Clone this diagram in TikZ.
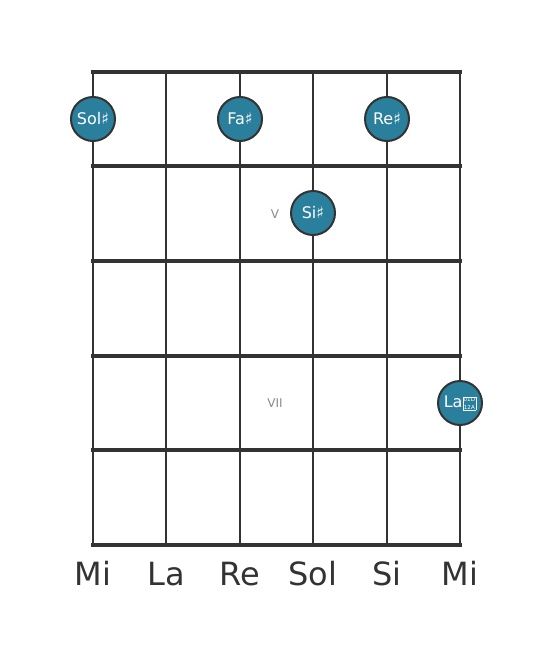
\documentclass[tikz,border=0pt]{standalone}
\usepackage{fontspec}
\setmainfont{DejaVu Sans}
\usepackage{xcolor}
\usetikzlibrary{positioning}
\definecolor{gridgray}{HTML}{333333}
\definecolor{dotblue}{HTML}{2A7F9C}
\definecolor{fretnum}{HTML}{8A8A8A}
\newcommand{\tofubox}{\raisebox{-1.5pt}{\setlength\fboxsep{0.5pt}\setlength\fboxrule{0.6pt}\fbox{\fontsize{5.6}{5.4}\selectfont\shortstack{01D\\12A}}}}
\tikzset{
  stringline/.style={gridgray,line width=2.6pt},
  fretline/.style={gridgray,line width=4.6pt},
  notedot/.style={circle,draw=gridgray,line width=2pt,fill=dotblue,minimum size=44pt,inner sep=0pt,text=white,font=\fontsize{16}{16}\selectfont},
  fretlabel/.style={text=fretnum,font=\fontsize{12}{12}\selectfont},
  stringname/.style={text=gridgray,font=\fontsize{32}{32}\selectfont,anchor=base}
}
\begin{document}
\begin{tikzpicture}[x=1pt,y=-1pt]
  \useasboundingbox (0,0) rectangle (553,656);
  % strings
  \foreach \x/\n in {93/1,166/2,240/3,313/4,387/5,460/6}{
    \coordinate (s\n top) at (\x,72);
    \coordinate (s\n bot) at (\x,545);
    \draw[stringline] (s\n top) -- (s\n bot);
  }
  % frets
  \foreach \y/\n in {72/0,166/1,261/2,356/3,450/4,545/5}{
    \coordinate (f\n l) at (93,\y);
    \coordinate (f\n r) at (460,\y);
    \draw[fretline,line cap=rect] (f\n l) -- (f\n r);
  }
  % fret numbers
  \node[fretlabel] (v) at (275,214) {V};
  \node[fretlabel] (vii) at (275,403) {VII};
  % notes
  \node[notedot] (sol) at (93,119) {Sol♯};
  \node[notedot] (fa) at (240,119) {Fa♯};
  \node[notedot] (re) at (387,119) {Re♯};
  \node[notedot] (si) at (313,213) {Si♯};
  \node[notedot] (la) at (460,403) {La\tofubox};
  % open strings
  \node[stringname] (n1) at (93,585) {Mi};
  \node[stringname] (n2) at (166,585) {La};
  \node[stringname] (n3) at (240,585) {Re};
  \node[stringname] (n4) at (313,585) {Sol};
  \node[stringname] (n5) at (387,585) {Si};
  \node[stringname] (n6) at (460,585) {Mi};
\end{tikzpicture}
\end{document}
